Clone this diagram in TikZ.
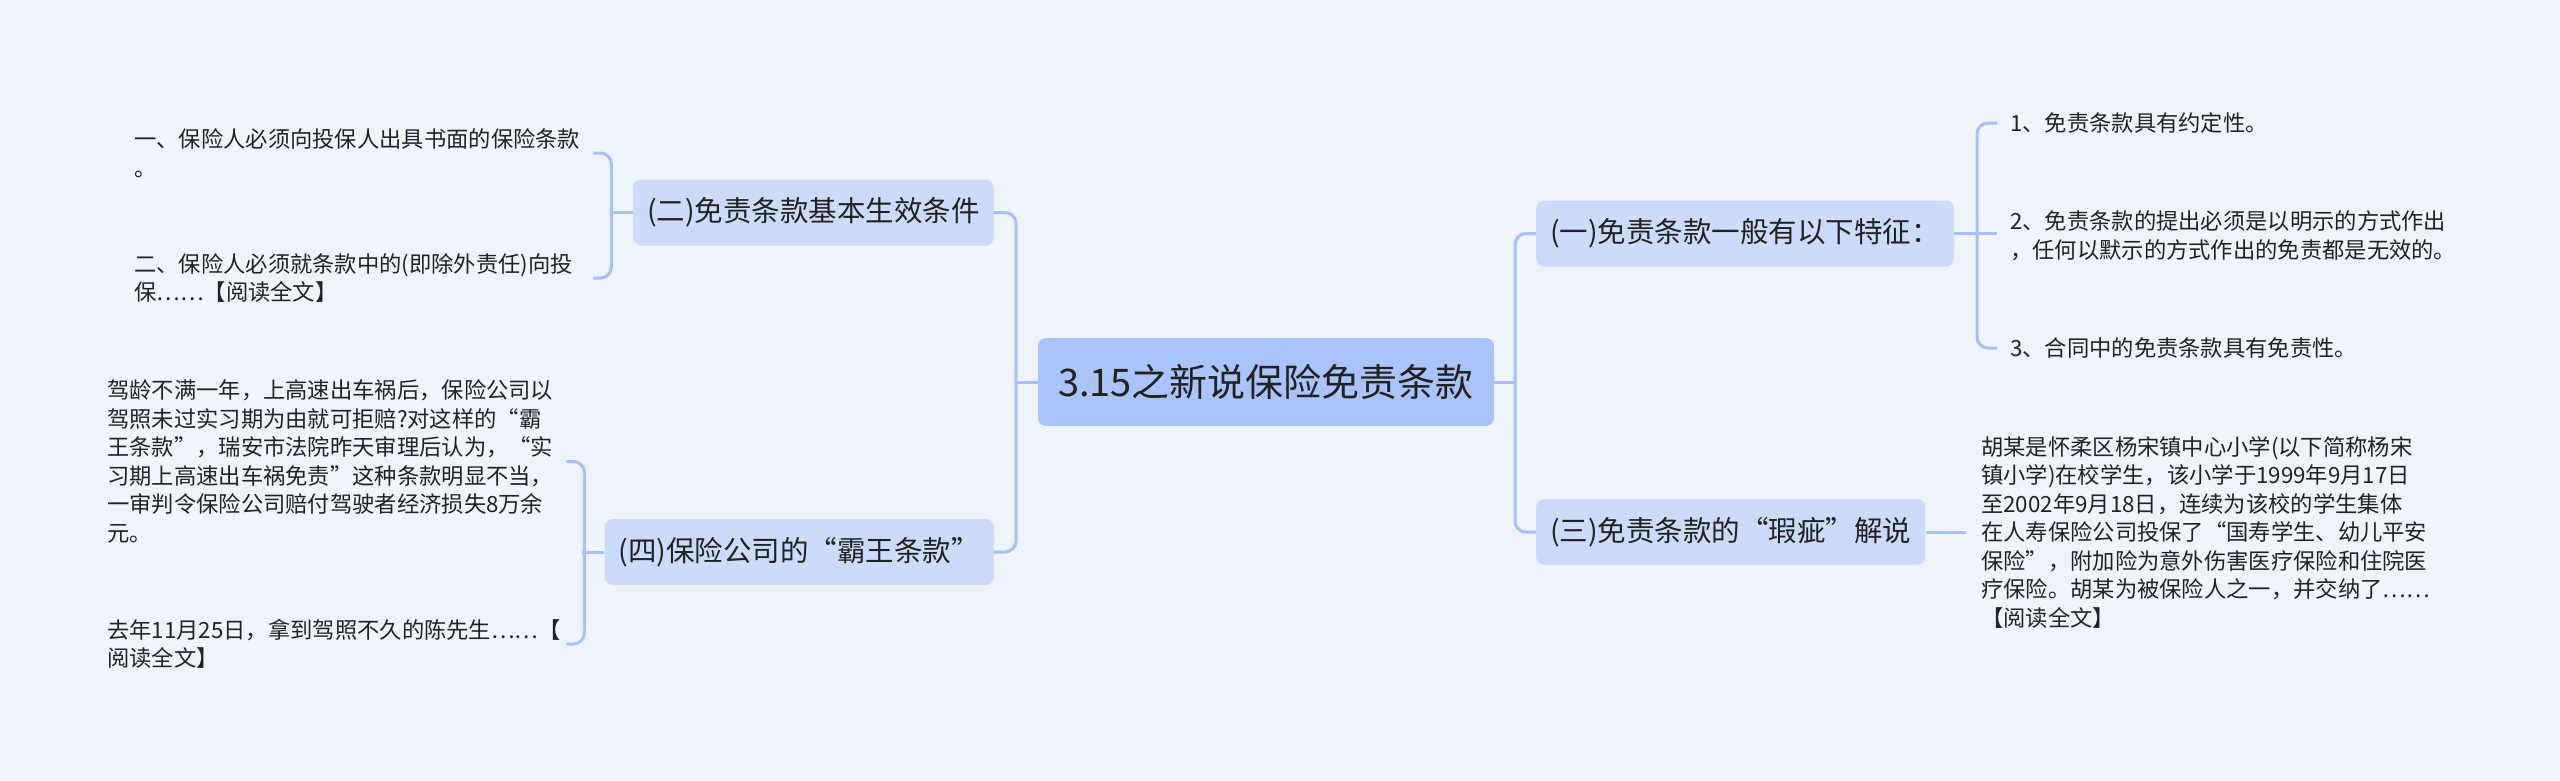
\documentclass[tikz,border=0pt]{standalone}
\usepackage{fontspec}
\setmainfont{Noto Sans CJK SC}
\definecolor{bgc}{RGB}{239,243,251}
\definecolor{rootc}{RGB}{170,195,250}
\definecolor{branchc}{RGB}{205,219,250}
\definecolor{linec}{RGB}{168,192,245}
\definecolor{txt}{RGB}{34,34,34}
\begin{document}
\begin{tikzpicture}[x=1pt,y=-1pt,
  link/.style={draw=linec, line width=3pt, rounded corners=11pt},
  rootbox/.style={fill=rootc, rounded corners=8pt, minimum width=456pt, minimum height=88pt, inner sep=0pt, font=\fontsize{38}{42}\selectfont, text=txt},
  branch/.style={fill=branchc, rounded corners=8pt, minimum height=66pt, inner xsep=14pt, inner ysep=0pt, font=\fontsize{28.5}{33}\selectfont, text=txt},
  leaf/.style={anchor=west, inner sep=0pt, align=left, text width=450pt, font=\fontsize{22.3}{28.5}\selectfont, text=txt}]
\fill[bgc] (0,0) rectangle (2560,780);
\useasboundingbox (0,0) rectangle (2560,780);

\node[rootbox] (root) at (1266,382) {3.15之新说保险免责条款};

\node[branch, anchor=east] (er) at (994,212.5) {(二)免责条款基本生效条件};
\node[branch, anchor=east] (si) at (994,552) {(四)保险公司的“霸王条款”};
\node[branch, anchor=west] (yi) at (1536,233.5) {(一)免责条款一般有以下特征：};
\node[branch, anchor=west] (san) at (1536,532) {(三)免责条款的“瑕疵”解说};

\node[leaf] (e1) at (134,153) {一、保险人必须向投保人出具书面的保险条款\\。};
\node[leaf] (e2) at (134,278) {二、保险人必须就条款中的(即除外责任)向投\\保……【阅读全文】};

\node[leaf] (s1) at (107,461.5) {驾龄不满一年，上高速出车祸后，保险公司以\\驾照未过实习期为由就可拒赔?对这样的“霸\\王条款”，瑞安市法院昨天审理后认为，“实\\习期上高速出车祸免责”这种条款明显不当，\\一审判令保险公司赔付驾驶者经济损失8万余\\元。};
\node[leaf] (s2) at (107,644) {去年11月25日，拿到驾照不久的陈先生……【\\阅读全文】};

\node[leaf] (y1) at (2010,123) {1、免责条款具有约定性。};
\node[leaf] (y2) at (2010,236) {2、免责条款的提出必须是以明示的方式作出\\，任何以默示的方式作出的免责都是无效的。};
\node[leaf] (y3) at (2010,348) {3、合同中的免责条款具有免责性。};

\node[leaf] (t1) at (1981,532) {胡某是怀柔区杨宋镇中心小学(以下简称杨宋\\镇小学)在校学生，该小学于1999年9月17日\\至2002年9月18日，连续为该校的学生集体\\在人寿保险公司投保了“国寿学生、幼儿平安\\保险”，附加险为意外伤害医疗保险和住院医\\疗保险。胡某为被保险人之一，并交纳了……\\【阅读全文】};

% main connectors
\draw[link] (root.west) -- ++(-22,0);
\draw[link] (er.east) -- ++(22,0) |- (si.east);
\draw[link] (root.east) -- ++(21,0);
\draw[link] (yi.west) -- ++(-21,0) |- (san.west);

% left sub-branches
\draw[link] (er.west) -- ++(-22,0);
\draw[link] ([xshift=9pt]e1.east) -- ++(18,0) |- ([xshift=9pt]e2.east);
\draw[link] (si.west) -- ++(-22,0);
\draw[link] ([xshift=9pt]s1.east) -- ++(18,0) |- ([xshift=9pt]s2.east);

% right sub-branches
\draw[link] (yi.east) -- ([xshift=-13pt]y2.west |- yi.east);
\draw[link] ([xshift=-13pt]y1.west) -- ++(-20,0) |- ([xshift=-13pt]y3.west);
\draw[link] (san.east) -- ([xshift=-15pt]t1.west);
\end{tikzpicture}
\end{document}
